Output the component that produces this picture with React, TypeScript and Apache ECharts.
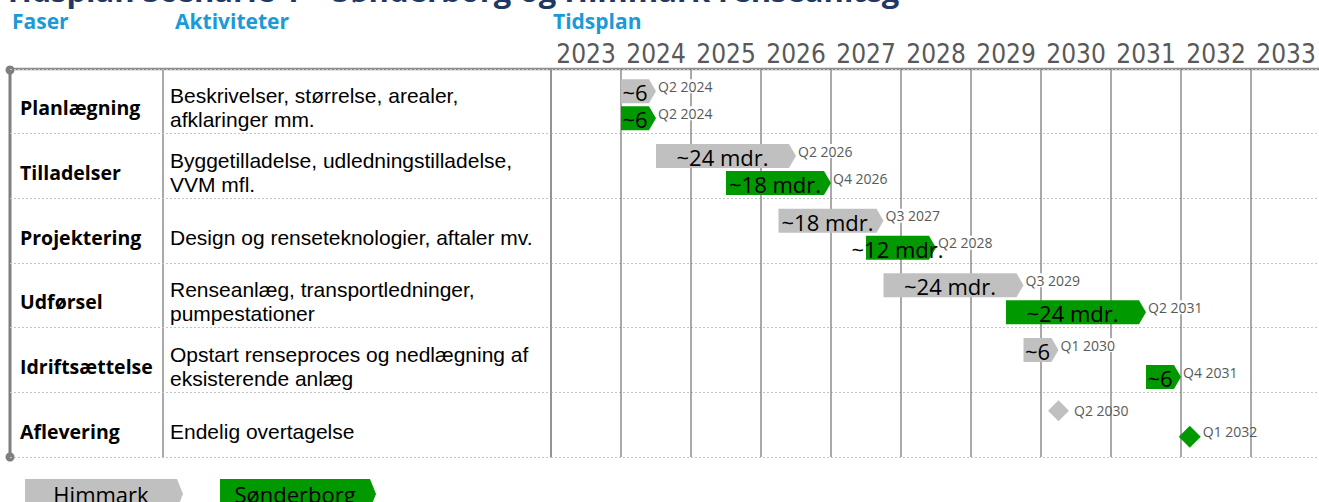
import React, { useEffect, useRef } from "react";
import * as echarts from "echarts";

const TITLE = "Tidsplan Scenarie 1 – Sønderborg og Himmark renseanlæg";
const HEADERS = ["Faser", "Aktiviteter", "Tidsplan"];
const YEARS = ["2023", "2024", "2025", "2026", "2027", "2028", "2029", "2030", "2031", "2032", "2033"];
const PHASES = ["Planlægning", "Tilladelser", "Projektering", "Udførsel", "Idriftsættelse", "Aflevering"];
const ACTIVITIES = [
  "Beskrivelser, størrelse, arealer,\nafklaringer mm.",
  "Byggetilladelse, udledningstilladelse,\nVVM mfl.",
  "Design og renseteknologier, aftaler mv.",
  "Renseanlæg, transportledninger,\npumpestationer",
  "Opstart renseproces og nedlægning af\neksisterende anlæg",
  "Endelig overtagelse",
];
const SERIES_NAMES = ["Himmark", "Sønderborg"];

// phase index, start (year), end (year)
const HIMMARK_TASKS = [
  [0, 2024.0, 2024.5],
  [1, 2024.5, 2026.5],
  [2, 2026.25, 2027.75],
  [3, 2027.75, 2029.75],
  [4, 2029.75, 2030.25],
];
const HIMMARK_DURATIONS = ["~6", "~24 mdr.", "~18 mdr.", "~24 mdr.", "~6"];
const HIMMARK_ENDS = ["Q2 2024", "Q2 2026", "Q3 2027", "Q3 2029", "Q1 2030"];

const SONDERBORG_TASKS = [
  [0, 2024.0, 2024.5],
  [1, 2025.5, 2027.0],
  [2, 2027.5, 2028.5],
  [3, 2029.5, 2031.5],
  [4, 2031.5, 2032.0],
];
const SONDERBORG_DURATIONS = ["~6", "~18 mdr.", "~12 mdr.", "~24 mdr.", "~6"];
const SONDERBORG_ENDS = ["Q2 2024", "Q4 2026", "Q2 2028", "Q2 2031", "Q4 2031"];

// milestone: year, phase index
const HIMMARK_MILESTONES = [[2030.25, 5]];
const HIMMARK_MILESTONE_LABELS = ["Q2 2030"];
const SONDERBORG_MILESTONES = [[2032.125, 5]];
const SONDERBORG_MILESTONE_LABELS = ["Q1 2032"];

const FONT = '"Open Sans", "Noto Sans", sans-serif';
const BODY_FONT = '"Liberation Sans", Arial, sans-serif';
const YEAR_FONT = '"Liberation Sans Narrow", "DejaVu Sans Condensed", sans-serif';
const GRAY = "#C0C0C0";
const GREEN = "#009900";
const TEXT_GRAY = "#595959";
const LINE_GRAY = "#8c8c8c";
const TOP = 69;
const BOTTOM = 457;
const GRAY_OFF = -10;
const GREEN_OFF = 17;

function makeRender(color: string, off: number, durations: string[], ends: string[]) {
  return (params: any, api: any) => {
    const row = api.value(0);
    const p0 = api.coord([api.value(1), row]);
    const p1 = api.coord([api.value(2), row]);
    const h = 24;
    const tip = 7;
    const cy = p0[1] + off;
    const x0 = p0[0];
    const x1 = p1[0];
    const top = cy - h / 2;
    const bot = cy + h / 2;
    return {
      type: "group",
      children: [
        {
          type: "polygon",
          shape: { points: [[x0, top], [x1 - tip, top], [x1, cy], [x1 - tip, bot], [x0, bot]] },
          style: { fill: color },
        },
        {
          type: "text",
          style: {
            text: durations[params.dataIndex],
            x: (x0 + x1 - tip) / 2,
            y: cy + 1,
            align: "center",
            verticalAlign: "middle",
            fill: "#000",
            font: `22px ${FONT}`,
          },
        },
        {
          type: "text",
          style: {
            text: ends[params.dataIndex],
            x: x1 + 2,
            y: cy - 5,
            align: "left",
            verticalAlign: "middle",
            fill: TEXT_GRAY,
            font: `14px ${FONT}`,
            backgroundColor: "#fff",
          },
        },
      ],
    };
  };
}

const LEGEND_X = [25, 220];
const LEGEND_W = [158, 156];
const LEGEND_COLORS = [GRAY, GREEN];

function buildGraphic() {
  const g: any[] = [];
  g.push({
    type: "text",
    x: 4,
    y: 5,
    style: { text: TITLE, font: `bold 31px ${FONT}`, fill: "#1F3864", verticalAlign: "bottom" },
  });
  const hx = [12, 175, 553];
  HEADERS.forEach((h, i) => {
    g.push({
      type: "text",
      x: hx[i],
      y: 21,
      style: { text: h, font: `bold 21px ${FONT}`, fill: "#1A9BD7", verticalAlign: "middle" },
    });
  });
  // table frame
  g.push({ type: "line", shape: { x1: 163, y1: TOP, x2: 163, y2: BOTTOM }, style: { stroke: LINE_GRAY, lineWidth: 1.5 } });
  g.push({ type: "line", shape: { x1: 551, y1: TOP, x2: 551, y2: BOTTOM }, style: { stroke: LINE_GRAY, lineWidth: 1.5 } });
  g.push({ type: "line", shape: { x1: 10, y1: TOP, x2: 1319, y2: TOP }, style: { stroke: LINE_GRAY, lineWidth: 2.5 } });
  g.push({ type: "line", shape: { x1: 10, y1: TOP + 1, x2: 10, y2: BOTTOM }, style: { stroke: "#7f7f7f", lineWidth: 3 } });
  g.push({ type: "circle", shape: { cx: 10, cy: TOP + 1, r: 4.5 }, style: { fill: "#7f7f7f" } });
  g.push({ type: "circle", shape: { cx: 10, cy: BOTTOM, r: 4.5 }, style: { fill: "#7f7f7f" } });
  // legend
  SERIES_NAMES.forEach((name, i) => {
    const x0 = LEGEND_X[i];
    const w = LEGEND_W[i];
    const y0 = 479;
    const hh = 30;
    g.push({
      type: "polygon",
      shape: { points: [[x0, y0], [x0 + w - 6, y0], [x0 + w, y0 + hh / 2], [x0 + w - 6, y0 + hh], [x0, y0 + hh]] },
      style: { fill: LEGEND_COLORS[i] },
    });
    g.push({
      type: "text",
      x: x0 + (w - 6) / 2,
      y: y0 + 15,
      style: { text: name, font: `22px ${FONT}`, fill: "#000", align: "center", verticalAlign: "middle" },
    });
  });
  return g;
}

const rowSplit = { show: true, interval: 0, lineStyle: { color: "#c4c4c4", type: [2, 2], width: 1 } };
const SHIFT_RICH = { s: { height: 13, lineHeight: 13, fontSize: 2 } };

const option: any = {
  animation: false,
  backgroundColor: "#fff",
  textStyle: { fontFamily: FONT },
  grid: [
    { left: 10, top: TOP, width: 541, height: BOTTOM - TOP, outerBoundsMode: "none" },
    { left: 551, top: TOP, width: 770, height: BOTTOM - TOP, outerBoundsMode: "none" },
  ],
  xAxis: [
    { gridIndex: 0, type: "value", min: 0, max: 1, show: false },
    {
      gridIndex: 1,
      type: "category",
      data: YEARS,
      position: "top",
      axisLine: { show: false },
      axisTick: { show: false },
      axisLabel: { interval: 0, margin: 2, fontSize: 26, fontFamily: YEAR_FONT, color: TEXT_GRAY },
      splitLine: { show: true, interval: 0, lineStyle: { color: LINE_GRAY, width: 1.5 } },
    },
    { gridIndex: 1, type: "value", min: 2023, max: 2034, show: false },
  ],
  yAxis: [
    {
      gridIndex: 0,
      type: "category",
      position: "left",
      data: PHASES,
      inverse: true,
      axisLine: { show: false },
      axisTick: { show: false },
      axisLabel: {
        inside: true,
        interval: 0,
        margin: 10,
        fontSize: 19.5,
        lineHeight: 24,
        fontWeight: "bold",
        color: "#000",
        fontFamily: FONT,
        formatter: (v: string) => `{s| }\n${v}`,
        rich: SHIFT_RICH,
      },
      splitLine: rowSplit,
    },
    {
      gridIndex: 0,
      type: "category",
      position: "left",
      data: ACTIVITIES,
      inverse: true,
      axisLine: { show: false },
      axisTick: { show: false },
      axisLabel: {
        inside: true,
        interval: 0,
        margin: 160,
        fontSize: 21,
        lineHeight: 24,
        color: "#000",
        fontFamily: BODY_FONT,
        formatter: (v: string) => `{s| }\n${v}`,
        rich: SHIFT_RICH,
      },
      splitLine: { show: false },
    },
    {
      gridIndex: 1,
      type: "category",
      data: PHASES,
      inverse: true,
      axisLine: { show: false },
      axisTick: { show: false },
      axisLabel: { show: false },
      splitLine: rowSplit,
    },
  ],
  series: [
    {
      type: "custom",
      name: SERIES_NAMES[0],
      xAxisIndex: 2,
      yAxisIndex: 2,
      renderItem: makeRender(GRAY, GRAY_OFF, HIMMARK_DURATIONS, HIMMARK_ENDS),
      encode: { x: [1, 2], y: 0 },
      data: HIMMARK_TASKS,
      z: 3,
    },
    {
      type: "custom",
      name: SERIES_NAMES[1],
      xAxisIndex: 2,
      yAxisIndex: 2,
      renderItem: makeRender(GREEN, GREEN_OFF, SONDERBORG_DURATIONS, SONDERBORG_ENDS),
      encode: { x: [1, 2], y: 0 },
      data: SONDERBORG_TASKS,
      z: 3,
    },
    {
      type: "scatter",
      name: SERIES_NAMES[0],
      xAxisIndex: 2,
      yAxisIndex: 2,
      symbol: "diamond",
      symbolSize: 21,
      symbolOffset: [0, GRAY_OFF - 4],
      itemStyle: { color: GRAY, opacity: 1 },
      label: {
        show: true,
        position: "right",
        distance: 5,
        color: TEXT_GRAY,
        fontSize: 14,
        fontFamily: FONT,
        formatter: (p: any) => HIMMARK_MILESTONE_LABELS[p.dataIndex],
      },
      data: HIMMARK_MILESTONES,
    },
    {
      type: "scatter",
      name: SERIES_NAMES[1],
      xAxisIndex: 2,
      yAxisIndex: 2,
      symbol: "diamond",
      symbolSize: 22,
      symbolOffset: [0, GREEN_OFF - 5],
      itemStyle: { color: GREEN, opacity: 1 },
      label: {
        show: true,
        position: "right",
        distance: 2,
        offset: [0, -5],
        color: TEXT_GRAY,
        fontSize: 14,
        fontFamily: FONT,
        formatter: (p: any) => SONDERBORG_MILESTONE_LABELS[p.dataIndex],
      },
      data: SONDERBORG_MILESTONES,
    },
  ],
  graphic: buildGraphic(),
};

export default function App() {
  const ref = useRef<HTMLDivElement>(null);
  useEffect(() => {
    const chart = echarts.init(ref.current!, null, { renderer: "svg" });
    chart.setOption(option);
    return () => chart.dispose();
  }, []);
  return (
    <div
      ref={ref}
      style={{ position: "absolute", left: 0, top: 0, width: 1319, height: 502, background: "#fff" }}
    />
  );
}
